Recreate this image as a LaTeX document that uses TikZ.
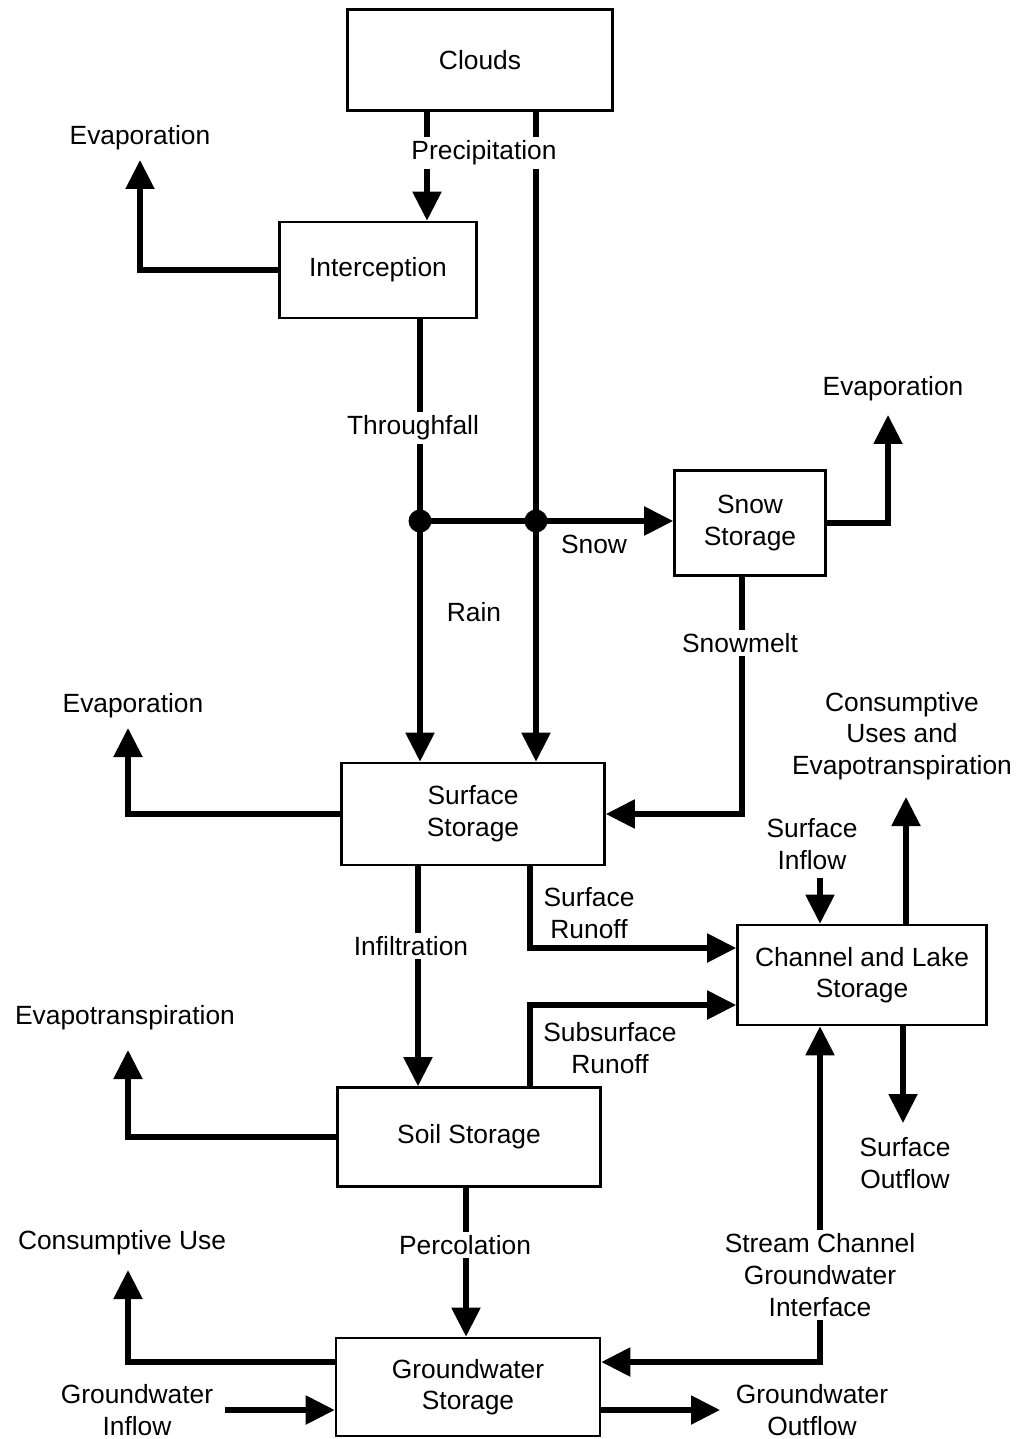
\documentclass[tikz,border=0pt]{standalone}
\usepackage{fontspec}
\setmainfont{Liberation Sans}
\usetikzlibrary{arrows.meta,positioning,calc}

\tikzset{
  every node/.style={font=\fontsize{15pt}{18pt}\selectfont},
  store/.style={draw, line width=1.5pt, align=center, inner sep=0pt},
  flow/.style={line width=3pt, -{Triangle[length=0.58cm,width=0.56cm]}},
  twoway/.style={line width=3pt, {Triangle[length=0.58cm,width=0.56cm]}-{Triangle[length=0.58cm,width=0.56cm]}},
  plain/.style={line width=3pt},
  lbl/.style={fill=white, align=center, inner sep=2pt},
}

\begin{document}
\begin{tikzpicture}[x=0.02cm, y=-0.02cm]
    \useasboundingbox (0,0) rectangle (1021,1439);

    % storages
    \node[store, minimum width=5.3cm, minimum height=2.02cm] (clouds) at (480,60) {Clouds};
    \node[store, minimum width=3.94cm, minimum height=1.92cm] (intercept) at (378,270) {Interception};
    \node[store, minimum width=3.02cm, minimum height=2.1cm] (snow) at (750,523) {Snow\\Storage};
    \node[store, minimum width=5.26cm, minimum height=2.04cm] (surf) at (473,814) {Surface\\Storage};
    \node[store, minimum width=4.98cm, minimum height=2.0cm] (chan) at (862,975) {Channel and Lake\\Storage};
    \node[store, minimum width=5.26cm, minimum height=1.98cm] (soil) at (469,1137) {Soil Storage};
    \node[store, minimum width=5.28cm, minimum height=1.96cm] (gw) at (468,1387) {Groundwater\\Storage};

    % junctions
    \coordinate (j1) at (420,521);
    \coordinate (j2) at (536,521);

    % precipitation, throughfall, rain, snow
    \draw[flow] (clouds.south -| 427,0) -- (intercept.north -| 427,0);
    \draw[flow] (clouds.south -| j2) -- (j2) -- (surf.north -| j2);
    \draw[flow] (intercept.south -| j1) -- (j1) -- (surf.north -| j1);
    \draw[flow] (j1) -- (snow.west |- j1);
    \fill (j1) circle[radius=0.23cm];
    \fill (j2) circle[radius=0.23cm];

    % evaporation
    \draw[flow] (intercept.west) -| (140,160);
    \draw[flow] (snow.east) -| (888,415);
    \draw[flow] (surf.west) -| (128,728);
    \draw[flow] (soil.west) -| (128,1050);
    \draw[flow] (gw.west |- 0,1362) -| (128,1270);

    % surface and soil
    \draw[flow] (snow.south -| 742,0) |- (surf.east);
    \draw[flow] (surf.south -| 530,0) |- (chan.west |- 0,948);
    \draw[flow] (surf.south -| 418,0) -- (soil.north -| 418,0);
    \draw[flow] (soil.north -| 530,0) |- (chan.west |- 0,1005);
    \draw[flow] (soil.south -| 466,0) -- (gw.north -| 466,0);

    % channel
    \draw[flow] (820,878) -- (chan.north -| 820,0);
    \draw[flow] (chan.north -| 906,0) -- (906,797);
    \draw[flow] (chan.south -| 903,0) -- (903,1123);
    \draw[twoway] (gw.east |- 0,1362) -| (chan.south -| 820,0);

    % groundwater in and out
    \draw[flow] (225,1410) -- (gw.west |- 0,1410);
    \draw[flow] (gw.east |- 0,1410) -- (720,1410);

    % labels
    \node[lbl] (precip) at (484,153) {Precipitation};
    \node[lbl] (through) at (413,428) {Throughfall};
    \node (snowlbl) at (594,544) {Snow};
    \node (rain) at (474,612) {Rain};
    \node[lbl] (melt) at (740,643) {Snowmelt};
    \node[align=center] (srunoff) at (589,913) {Surface\\Runoff};
    \node[lbl] (infil) at (411,946) {Infiltration};
    \node[align=center] (ssrunoff) at (610,1048) {Subsurface\\Runoff};
    \node[lbl] (perc) at (465,1245) {Percolation};
    \node[lbl] (iface) at (820,1275) {Stream Channel\\Groundwater\\Interface};
    \node[align=center] (sinflow) at (812,844) {Surface\\Inflow};
    \node[align=center] (cuse) at (902,736) {Consumptive\\Uses and\\Evapotranspiration};
    \node[align=center] (soutflow) at (905,1163) {Surface\\Outflow};
    \node (ev1) at (140,138) {Evaporation};
    \node (ev2) at (893,389) {Evaporation};
    \node (ev3) at (133,706) {Evaporation};
    \node (evt) at (125,1018) {Evapotranspiration};
    \node (cons) at (122,1243) {Consumptive Use};
    \node[align=center] (gwin) at (137,1410) {Groundwater\\Inflow};
    \node[align=center] (gwout) at (812,1410) {Groundwater\\Outflow};
\end{tikzpicture}
\end{document}
